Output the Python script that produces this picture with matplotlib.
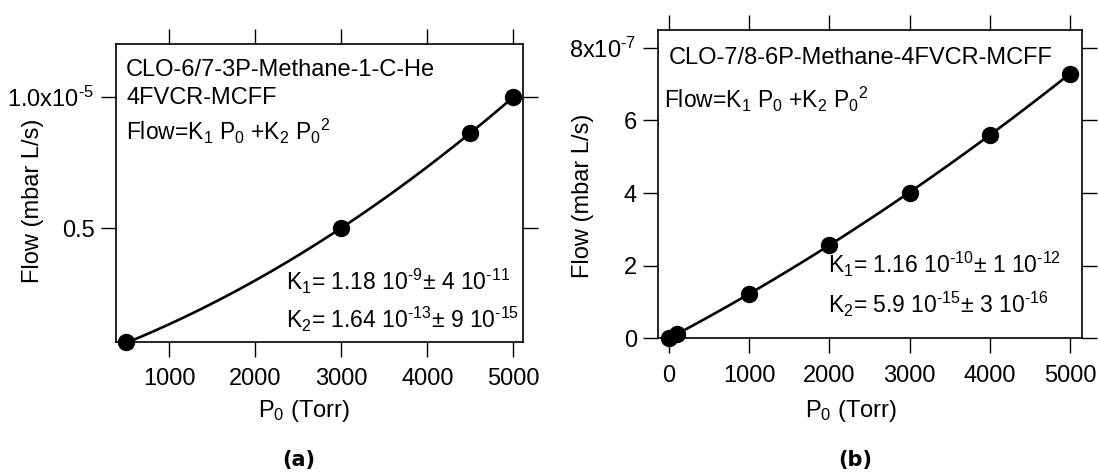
import numpy as np
import matplotlib
matplotlib.use('Agg')
import matplotlib.pyplot as plt

# panel (a): CLO-6/7-3P-Methane-1-C-He 4FVCR-MCFF
p0_a = [500, 3000, 4500, 5000]
flow_a = [6.5e-7, 5.0e-6, 8.62e-6, 1.0e-5]
xticks_a = [1000, 2000, 3000, 4000, 5000]
yticks_a = [5e-6, 1e-5]
yticklabels_a = ['0.5', '1.0x10$\\mathregular{^{\u20105}}$']
title_a = ['CLO-6/7-3P-Methane-1-C-He', '4FVCR-MCFF']
k1_a = 'K$\\mathregular{_1}$= 1.18 10$\\mathregular{^{\u20109}}$± 4 10$\\mathregular{^{\u201011}}$'
k2_a = 'K$\\mathregular{_2}$= 1.64 10$\\mathregular{^{\u201013}}$± 9 10$\\mathregular{^{\u201015}}$'

# panel (b): CLO-7/8-6P-Methane-4FVCR-MCFF
p0_b = [0, 100, 1000, 2000, 3000, 4000, 5000]
flow_b = [0.0, 1.2e-8, 1.22e-7, 2.58e-7, 4.01e-7, 5.59e-7, 7.29e-7]
xticks_b = [0, 1000, 2000, 3000, 4000, 5000]
yticks_b = [0, 2e-7, 4e-7, 6e-7, 8e-7]
yticklabels_b = ['0', '2', '4', '6', '8x10$\\mathregular{^{\u20107}}$']
title_b = 'CLO-7/8-6P-Methane-4FVCR-MCFF'
k1_b = 'K$\\mathregular{_1}$= 1.16 10$\\mathregular{^{\u201010}}$± 1 10$\\mathregular{^{\u201012}}$'
k2_b = 'K$\\mathregular{_2}$= 5.9 10$\\mathregular{^{\u201015}}$± 3 10$\\mathregular{^{\u201016}}$'

fit_eq = (r'Flow=K$\mathregular{_1}$ P$\mathregular{_0}$ +K$\mathregular{_2}$ '
          r'P$\mathregular{_0}$$\mathregular{^2}$')
xlabel = r'P$\mathregular{_0}$ (Torr)'
ylabel = 'Flow (mbar L/s)'

W, H = 1098, 473
FS = 17


def fit_curve(x, y):
    # Flow = K1 P0 + K2 P0^2, least squares through origin
    x = np.asarray(x, dtype=float)
    y = np.asarray(y, dtype=float)
    A = np.column_stack([x, x ** 2])
    k, _, _, _ = np.linalg.lstsq(A, y, rcond=None)
    xs = np.linspace(x.min(), x.max(), 200)
    return xs, k[0] * xs + k[1] * xs ** 2


def px_axes(fig, left, top, right, bottom):
    return fig.add_axes([left / W, 1 - bottom / H, (right - left) / W, (bottom - top) / H])


def style_axes(ax):
    for sp in ax.spines.values():
        sp.set_linewidth(1.2)
    ax.tick_params(direction='out', length=10.5, width=1.0, top=True, right=True,
                   labeltop=False, labelright=False, labelsize=FS, colors='black')
    ax.tick_params(axis='x', pad=8.5)
    ax.tick_params(axis='y', pad=5.0)


def plot_panel(ax, x, y):
    xs, ys = fit_curve(x, y)
    ax.plot(xs, ys, '-', color='black', lw=1.9, clip_on=False, zorder=3)
    ax.plot(x, y, 'o', color='black', ms=11.5, clip_on=False, zorder=4)


def note(ax, x, y, s, size):
    ax.text(x, y, s, transform=ax.transAxes, fontsize=size, va='baseline')


def main():
    plt.rcParams['font.family'] = ['Liberation Sans', 'DejaVu Sans']
    plt.rcParams['mathtext.fontset'] = 'custom'
    plt.rcParams['mathtext.rm'] = 'Liberation Sans'
    plt.rcParams['mathtext.it'] = 'Liberation Sans:italic'
    plt.rcParams['mathtext.bf'] = 'Liberation Sans:bold'

    fig = plt.figure(figsize=(W / 100, H / 100), dpi=100)

    # ---- panel (a)
    ax = px_axes(fig, 116, 44, 523, 342)
    plot_panel(ax, p0_a, flow_a)
    ax.set_xlim(380, 5113)
    ax.set_ylim(6.6e-7, 1.202e-5)
    ax.set_xticks(xticks_a)
    ax.set_yticks(yticks_a)
    ax.set_yticklabels(yticklabels_a)
    style_axes(ax)
    ax.set_xlabel(xlabel, fontsize=FS)
    ax.set_ylabel(ylabel, fontsize=FS)
    ax.xaxis.set_label_coords(0.462, -0.187)
    ax.yaxis.set_label_coords(-0.177, 0.473)
    note(ax, 0.0246, 0.8936, title_a[0], FS)
    note(ax, 0.0246, 0.7977, title_a[1], FS)
    note(ax, 0.0246, 0.6779, fit_eq, 16.5)
    note(ax, 0.4177, 0.1745, k1_a, 16.5)
    note(ax, 0.4177, 0.046, k2_a, 16.5)

    # ---- panel (b)
    ax = px_axes(fig, 658.3, 30, 1081.7, 338.3)
    plot_panel(ax, p0_b, flow_b)
    ax.set_xlim(-133, 5146)
    ax.set_ylim(0, 8.49e-7)
    ax.set_xticks(xticks_b)
    ax.set_yticks(yticks_b)
    ax.set_yticklabels(yticklabels_b)
    style_axes(ax)
    ax.set_xlabel(xlabel, fontsize=FS)
    ax.set_ylabel(ylabel, fontsize=FS)
    ax.xaxis.set_label_coords(0.455, -0.193)
    ax.yaxis.set_label_coords(-0.152, 0.4616)
    note(ax, 0.0236, 0.8897, title_b, FS)
    note(ax, 0.0135, 0.746, fit_eq, 16.5)
    note(ax, 0.4008, 0.2118, k1_b, 16.5)
    note(ax, 0.4008, 0.0811, k2_b, 16.5)

    # captions
    fig.text(299 / W, 1 - 460 / H, '(a)', ha='center', va='center',
             family='DejaVu Sans', weight='bold', fontsize=15)
    fig.text(855 / W, 1 - 460 / H, '(b)', ha='center', va='center',
             family='DejaVu Sans', weight='bold', fontsize=15)

    fig.savefig('out.png', dpi=100)


if __name__ == '__main__':
    main()
